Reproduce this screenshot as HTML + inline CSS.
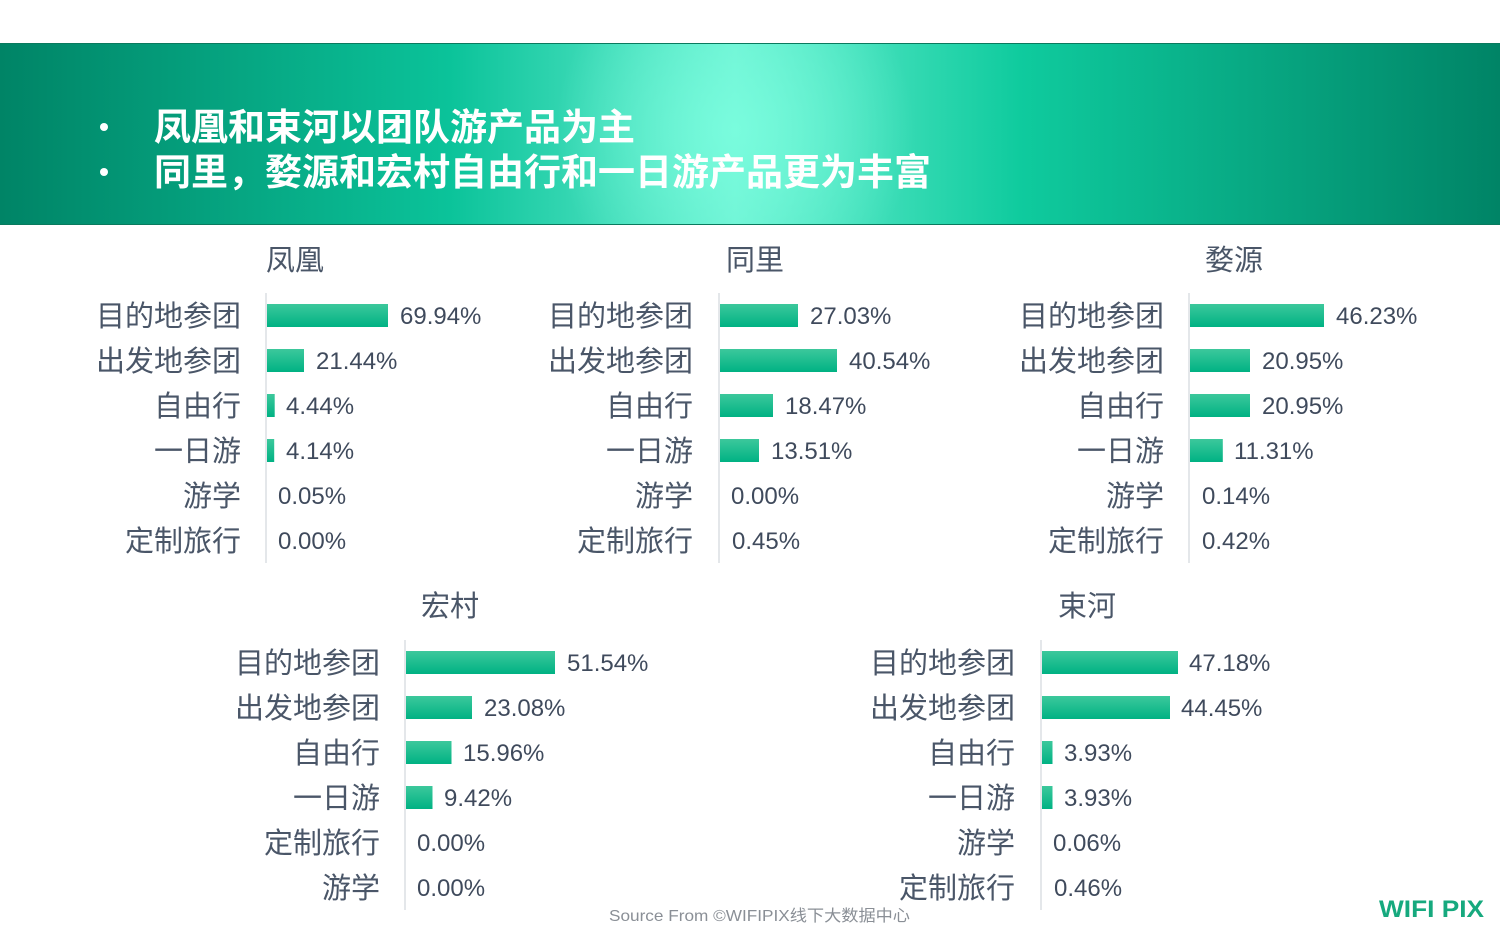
<!DOCTYPE html>
<html><head><meta charset="utf-8"><style>
html,body{margin:0;padding:0;background:#fff;}
svg{display:block;}
.lab{font-family:"Liberation Sans","Noto Sans CJK SC",sans-serif;font-size:29px;fill:#4a5668;text-anchor:end;}
.val{font-family:"Liberation Sans","Noto Sans CJK SC",sans-serif;font-size:24px;fill:#3f4a5c;}
.ttl{font-family:"Liberation Sans","Noto Sans CJK SC",sans-serif;font-size:29px;fill:#4a5668;text-anchor:middle;}
.hd{font-family:"Liberation Sans","Noto Sans CJK SC",sans-serif;font-size:37px;font-weight:bold;fill:#fff;}
.ax{stroke:#dcdfe4;stroke-width:1.5;}
</style></head><body>
<svg width="1500" height="938" viewBox="0 0 1500 938" xmlns="http://www.w3.org/2000/svg">
<defs>
<linearGradient id="hg" x1="0" y1="0" x2="1" y2="0">
<stop offset="0" stop-color="#008466"/>
<stop offset="0.3" stop-color="#0bc39a"/>
<stop offset="0.49" stop-color="#6cf0d2"/>
<stop offset="0.68" stop-color="#0fcb9e"/>
<stop offset="1" stop-color="#008466"/>
</linearGradient>
<radialGradient id="rg" cx="735" cy="130" r="180" gradientUnits="userSpaceOnUse">
<stop offset="0" stop-color="#7dffe0" stop-opacity="0.8"/>
<stop offset="1" stop-color="#7dffe0" stop-opacity="0"/>
</radialGradient>
<linearGradient id="bg" x1="0" y1="0" x2="0" y2="1">
<stop offset="0" stop-color="#3cc89c"/>
<stop offset="1" stop-color="#00b283"/>
</linearGradient>
</defs>
<rect x="0" y="43" width="1500" height="182" fill="url(#hg)"/>
<rect x="0" y="43" width="1500" height="182" fill="url(#rg)"/>
<line x1="0" y1="43.5" x2="1500" y2="43.5" stroke="#0a7a5e" stroke-width="1"/>
<line x1="0" y1="224.5" x2="1500" y2="224.5" stroke="#0a7a5e" stroke-width="1"/>
<circle cx="104" cy="127" r="4" fill="#fff"/>
<circle cx="104" cy="172" r="4" fill="#fff"/>
<text class="hd" x="154" y="140">凤凰和束河以团队游产品为主</text>
<text class="hd" x="154" y="185">同里，婺源和宏村自由行和一日游产品更为丰富</text>

<!-- 凤凰 -->
<text class="ttl" x="295" y="270">凤凰</text>
<line class="ax" x1="266" y1="293" x2="266" y2="563"/>
<g>
<rect x="267" y="304" width="121" height="23" fill="url(#bg)"/>
<rect x="267" y="349" width="37" height="23" fill="url(#bg)"/>
<rect x="267" y="394" width="7.7" height="23" fill="url(#bg)"/>
<rect x="267" y="439" width="7.2" height="23" fill="url(#bg)"/>
<text class="lab" x="241" y="326">目的地参团</text><text class="val" x="400" y="324">69.94%</text>
<text class="lab" x="241" y="371">出发地参团</text><text class="val" x="316" y="369">21.44%</text>
<text class="lab" x="241" y="416">自由行</text><text class="val" x="286" y="414">4.44%</text>
<text class="lab" x="241" y="461">一日游</text><text class="val" x="286" y="459">4.14%</text>
<text class="lab" x="241" y="506">游学</text><text class="val" x="278" y="504">0.05%</text>
<text class="lab" x="241" y="551">定制旅行</text><text class="val" x="278" y="549">0.00%</text>
</g>

<!-- 同里 -->
<text class="ttl" x="755" y="270">同里</text>
<line class="ax" x1="719" y1="293" x2="719" y2="563"/>
<g>
<rect x="720" y="304" width="78" height="23" fill="url(#bg)"/>
<rect x="720" y="349" width="117" height="23" fill="url(#bg)"/>
<rect x="720" y="394" width="53" height="23" fill="url(#bg)"/>
<rect x="720" y="439" width="39" height="23" fill="url(#bg)"/>
<text class="lab" x="693" y="326">目的地参团</text><text class="val" x="810" y="324">27.03%</text>
<text class="lab" x="693" y="371">出发地参团</text><text class="val" x="849" y="369">40.54%</text>
<text class="lab" x="693" y="416">自由行</text><text class="val" x="785" y="414">18.47%</text>
<text class="lab" x="693" y="461">一日游</text><text class="val" x="771" y="459">13.51%</text>
<text class="lab" x="693" y="506">游学</text><text class="val" x="731" y="504">0.00%</text>
<text class="lab" x="693" y="551">定制旅行</text><text class="val" x="732" y="549">0.45%</text>
</g>

<!-- 婺源 -->
<text class="ttl" x="1234" y="270">婺源</text>
<line class="ax" x1="1189" y1="293" x2="1189" y2="563"/>
<g>
<rect x="1190" y="304" width="134" height="23" fill="url(#bg)"/>
<rect x="1190" y="349" width="60" height="23" fill="url(#bg)"/>
<rect x="1190" y="394" width="60" height="23" fill="url(#bg)"/>
<rect x="1190" y="439" width="32.8" height="23" fill="url(#bg)"/>
<text class="lab" x="1164" y="326">目的地参团</text><text class="val" x="1336" y="324">46.23%</text>
<text class="lab" x="1164" y="371">出发地参团</text><text class="val" x="1262" y="369">20.95%</text>
<text class="lab" x="1164" y="416">自由行</text><text class="val" x="1262" y="414">20.95%</text>
<text class="lab" x="1164" y="461">一日游</text><text class="val" x="1234" y="459">11.31%</text>
<text class="lab" x="1164" y="506">游学</text><text class="val" x="1202" y="504">0.14%</text>
<text class="lab" x="1164" y="551">定制旅行</text><text class="val" x="1202" y="549">0.42%</text>
</g>

<!-- 宏村 -->
<text class="ttl" x="450" y="616">宏村</text>
<line class="ax" x1="405" y1="640" x2="405" y2="910"/>
<g>
<rect x="406" y="651" width="149" height="23" fill="url(#bg)"/>
<rect x="406" y="696" width="66" height="23" fill="url(#bg)"/>
<rect x="406" y="741" width="45.5" height="23" fill="url(#bg)"/>
<rect x="406" y="786" width="26.5" height="23" fill="url(#bg)"/>
<text class="lab" x="380" y="673">目的地参团</text><text class="val" x="567" y="671">51.54%</text>
<text class="lab" x="380" y="718">出发地参团</text><text class="val" x="484" y="716">23.08%</text>
<text class="lab" x="380" y="763">自由行</text><text class="val" x="463" y="761">15.96%</text>
<text class="lab" x="380" y="808">一日游</text><text class="val" x="444" y="806">9.42%</text>
<text class="lab" x="380" y="853">定制旅行</text><text class="val" x="417" y="851">0.00%</text>
<text class="lab" x="380" y="898">游学</text><text class="val" x="417" y="896">0.00%</text>
</g>

<!-- 束河 -->
<text class="ttl" x="1087" y="616">束河</text>
<line class="ax" x1="1041" y1="640" x2="1041" y2="910"/>
<g>
<rect x="1042" y="651" width="136" height="23" fill="url(#bg)"/>
<rect x="1042" y="696" width="128" height="23" fill="url(#bg)"/>
<rect x="1042" y="741" width="10.5" height="23" fill="url(#bg)"/>
<rect x="1042" y="786" width="10.5" height="23" fill="url(#bg)"/>
<text class="lab" x="1015" y="673">目的地参团</text><text class="val" x="1189" y="671">47.18%</text>
<text class="lab" x="1015" y="718">出发地参团</text><text class="val" x="1181" y="716">44.45%</text>
<text class="lab" x="1015" y="763">自由行</text><text class="val" x="1064" y="761">3.93%</text>
<text class="lab" x="1015" y="808">一日游</text><text class="val" x="1064" y="806">3.93%</text>
<text class="lab" x="1015" y="853">游学</text><text class="val" x="1053" y="851">0.06%</text>
<text class="lab" x="1015" y="898">定制旅行</text><text class="val" x="1054" y="896">0.46%</text>
</g>

<text x="609" y="921" font-family="Liberation Sans, Noto Sans CJK SC, sans-serif" font-size="16" fill="#8a8f96" textLength="301" lengthAdjust="spacingAndGlyphs">Source From ©WIFIPIX线下大数据中心</text>
<text x="1379" y="917" font-family="Liberation Sans, sans-serif" font-size="24" font-weight="bold" fill="#16a97e" textLength="105" lengthAdjust="spacingAndGlyphs">WIFI PIX</text>
</svg>
</body></html>
